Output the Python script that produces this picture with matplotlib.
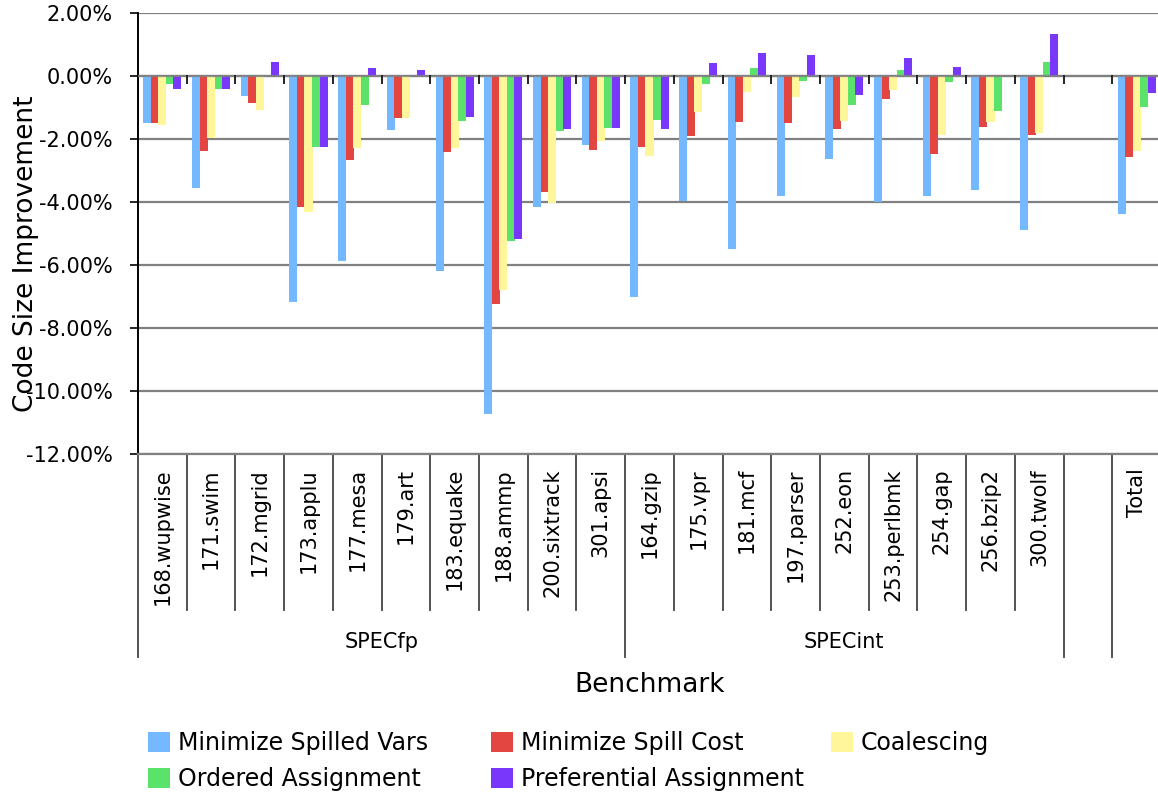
import numpy as np
import matplotlib
matplotlib.use("Agg")
import matplotlib.pyplot as plt
from matplotlib.patches import Patch

plt.rcParams['font.family'] = ['DejaVu Sans']

# benchmarks (empty slot between SPECint and Total)
fp_names = ['168.wupwise', '171.swim', '172.mgrid', '173.applu', '177.mesa',
            '179.art', '183.equake', '188.ammp', '200.sixtrack', '301.apsi']
int_names = ['164.gzip', '175.vpr', '181.mcf', '197.parser', '252.eon',
             '253.perlbmk', '254.gap', '256.bzip2', '300.twolf']
benchmarks = fp_names + int_names + ['', 'Total']

# code size improvement in %
spilled_vars = [-1.49, -3.55, -0.63, -7.18, -5.86, -1.71, -6.20, -10.72, -4.16, -2.19,
                -7.03, -3.97, -5.48, -3.81, -2.63, -4.00, -3.81, -3.62, -4.89, np.nan, -4.38]
spill_cost = [-1.49, -2.38, -0.86, -4.16, -2.67, -1.33, -2.41, -7.25, -3.68, -2.35,
              -2.25, -1.90, -1.46, -1.49, -1.68, -0.74, -2.48, -1.62, -1.87, np.nan, -2.57]
coalescing = [-1.55, -1.97, -1.08, -4.32, -2.29, -1.33, -2.29, -6.78, -4.03, -2.06,
              -2.54, -1.14, -0.51, -0.67, -1.43, -0.44, -1.87, -1.46, -1.81, np.nan, -2.38]
ordered = [-0.25, -0.41, 0.0, -2.25, -0.92, 0.0, -1.43, -5.25, -1.75, -1.65,
           -1.40, -0.25, 0.24, -0.16, -0.92, 0.18, -0.19, -1.11, 0.43, np.nan, -0.98]
preferential = [-0.41, -0.41, 0.43, -2.25, 0.24, 0.18, -1.30, -5.19, -1.68, -1.65,
                -1.68, 0.40, 0.72, 0.66, -0.60, 0.56, 0.28, 0.0, 1.32, np.nan, -0.54]

series = [
    ('Minimize Spilled Vars', spilled_vars, '#74B9FF'),
    ('Minimize Spill Cost', spill_cost, '#E34541'),
    ('Coalescing', coalescing, '#FFF59B'),
    ('Ordered Assignment', ordered, '#5BE26B'),
    ('Preferential Assignment', preferential, '#7A37FC'),
]

W, H = 1158, 795
fig = plt.figure(figsize=(W / 100, H / 100), dpi=100)
ax = fig.add_axes([138 / W, 1 - 454 / H, 1023 / W, 441 / H])

x = np.arange(len(benchmarks))
step, width = 0.155, 0.165
for i, (name, vals, col) in enumerate(series):
    ax.bar(x + (i - 2) * step, vals, width, color=col, label=name, zorder=2)

ax.set_xlim(-0.5, len(benchmarks) - 0.5)
ax.set_ylim(-12, 2)
ax.set_yticks(np.arange(-12, 2.1, 2))
ax.set_yticklabels(['%.2f%%' % v for v in np.arange(-12, 2.1, 2)], fontsize=15)
ax.yaxis.grid(True, color='#808080', linewidth=1.6, zorder=0)
ax.set_axisbelow(True)
ax.axhline(0, color='#808080', linewidth=1.6, alpha=0.85, zorder=3)
ax.tick_params(axis='y', length=6, width=1.2, color='black', pad=12)
ax.set_xticks([])
for s in ['top', 'right']:
    ax.spines[s].set_visible(False)
ax.spines['left'].set_color('black')
ax.spines['left'].set_linewidth(1.4)
ax.spines['bottom'].set_color('#808080')
ax.spines['bottom'].set_linewidth(1.6)

# small category ticks on the zero line
for b in range(1, len(benchmarks)):
    ax.plot([b - 0.5, b - 0.5], [0, -0.22], color='#222222', lw=1.4, zorder=3)

# category table under the axis
trans = ax.get_xaxis_transform()
long_bounds = [0, len(fp_names), len(fp_names) + len(int_names), len(benchmarks) - 1]
for b in range(0, len(benchmarks)):
    y_end = -0.4603 if b in long_bounds else -0.3537
    ax.plot([b - 0.5, b - 0.5], [0, y_end], color='#444444', lw=1.3,
            transform=trans, clip_on=False)
for i, name in enumerate(benchmarks):
    ax.text(i, -0.032, name, rotation=90, ha='center', va='top', fontsize=15,
            transform=trans)
ax.text((len(fp_names) - 1) / 2, -0.427, 'SPECfp', ha='center', va='center',
        fontsize=15, transform=trans)
ax.text(len(fp_names) + (len(int_names) - 1) / 2, -0.427, 'SPECint', ha='center',
        va='center', fontsize=15, transform=trans)

fig.text(650 / W, 1 - 685 / H, 'Benchmark', ha='center', va='center', fontsize=19)
fig.text(26 / W, 1 - 254 / H, 'Code Size Improvement', rotation=90, ha='center',
         va='center', fontsize=19)

# legend: three columns placed like the original
handles = [Patch(facecolor=c, label=n) for n, _, c in series]
columns = [([handles[0], handles[3]], 148), ([handles[1], handles[4]], 491),
           ([handles[2]], 831)]
for hs, xpos in columns:
    fig.legend(handles=hs, loc='upper left', bbox_to_anchor=(xpos / W, 1 - 731 / H),
               frameon=False, fontsize=17, handlelength=0.95, handleheight=0.95,
               handletextpad=0.3, labelspacing=0.5, borderpad=0, borderaxespad=0)

fig.savefig('out.png', dpi=100)
